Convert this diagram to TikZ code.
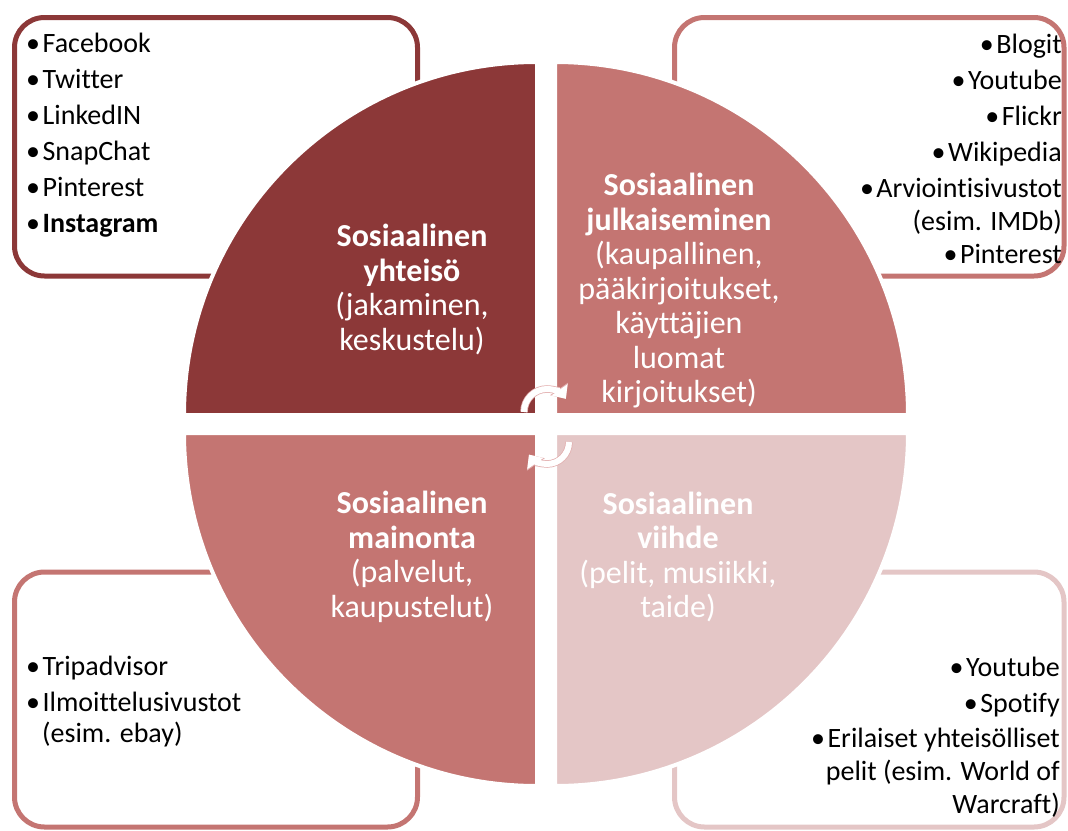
\documentclass[tikz,border=0pt]{standalone}
\usepackage{fontspec}
\setmainfont{Carlito}[Ligatures=NoCommon]
\usetikzlibrary{arrows.meta}
\definecolor{darkrose}{HTML}{8C3838}
\definecolor{midrose}{HTML}{C47572}
\definecolor{lightrose}{HTML}{E4C6C6}
\definecolor{rimrose}{HTML}{E2AEAE}
\newcommand{\bul}{•\hspace{2.5pt}}
\tikzset{listbox/.style={rounded corners=30pt, line width=5pt},
         quarter/.style={draw=white, line width=4pt},
         quartertext/.style={text=white, align=center,
                             font=\fontsize{32}{34.5}\selectfont},
         item/.style={font=\fontsize{28}{33}\selectfont},
         cyclearrow/.style={white, line width=6pt,
                            -{Triangle[width=19pt, length=11pt]},
                            preaction={draw=rimrose, line width=7.5pt,
                                       -{Triangle[width=21pt, length=12pt]}}}}

\begin{document}
\begin{tikzpicture}[x=1pt, y=-1pt, every node/.style={inner sep=0pt}]
      \useasboundingbox (0,0) rectangle (1068,830);

      % boxes behind the circle
      \draw[listbox, draw=darkrose] (14.5,17.5) rectangle (417.5,276);
      \draw[listbox, draw=midrose] (674.5,17.5) rectangle (1064,276);
      \draw[listbox, draw=midrose] (14.5,572) rectangle (417.5,827);
      \draw[listbox, draw=lightrose] (674.5,572) rectangle (1064,827);

      % four quarters
      \filldraw[quarter, fill=darkrose] (537,415) -- (184,415)
        arc[start angle=180, end angle=270, radius=353] -- cycle;
      \filldraw[quarter, fill=midrose] (555,415) -- (555,62)
        arc[start angle=270, end angle=360, radius=353] -- cycle;
      \filldraw[quarter, fill=lightrose] (555,433) -- (908,433)
        arc[start angle=0, end angle=90, radius=353] -- cycle;
      \filldraw[quarter, fill=midrose] (537,433) -- (537,786)
        arc[start angle=90, end angle=180, radius=353] -- cycle;

      \draw[cyclearrow] (524,412) arc[start angle=180, end angle=325, radius=23];
      \draw[cyclearrow] (569,442) arc[start angle=0, end angle=145, radius=22];

      \node[quartertext] (community) at (412,289.5)
        {\textbf{Sosiaalinen}\\\textbf{yhteisö}\\(jakaminen,\\keskustelu)};
      \node[quartertext] (publishing) at (679,291)
        {\textbf{Sosiaalinen}\\\textbf{julkaiseminen}\\(kaupallinen,\\pääkirjoitukset,\\käyttäjien\\luomat\\kirjoitukset)};
      \node[quartertext] (marketing) at (412,557)
        {\textbf{Sosiaalinen}\\\textbf{mainonta}\\(palvelut,\\kaupustelut)};
      \node[quartertext] (entertainment) at (678,557)
        {\textbf{Sosiaalinen}\\\textbf{viihde}\\(pelit, musiikki,\\taide)};

      % lists
      \foreach \name [count=\i from 0] in {Facebook, Twitter, LinkedIN, SnapChat, Pinterest}
        \node[item, anchor=base west] (comm\i) at (26,52+36*\i) {\bul\name};
      \node[item, anchor=base west] (comm5) at (26,232) {\bul\textbf{Instagram}};

      \foreach \name/\y [count=\i] in {Blogit/53, Youtube/89, Flickr/125, Wikipedia/161,
                                       Arviointisivustot/197}
        \node[item, anchor=base east] (pub\i) at (1062,\y) {\bul\name};
      \node[item, anchor=base east] (pub6) at (1062,230) {(esim. IMDb)};
      \node[item, anchor=base east] (pub7) at (1062,263) {\bul Pinterest};

      \node[item, anchor=base west] (mark1) at (26,675) {\bul Tripadvisor};
      \node[item, anchor=base west] (mark2) at (26,711) {\bul Ilmoittelusivustot};
      \node[item, anchor=base west] (mark3) at (42,742) {(esim. ebay)};

      \node[item, anchor=base east] (ent1) at (1060,676) {\bul Youtube};
      \node[item, anchor=base east] (ent2) at (1060,712) {\bul Spotify};
      \node[item, anchor=base east] (ent3) at (1060,747) {\bul Erilaiset yhteisölliset};
      \node[item, anchor=base east] (ent4) at (1060,780) {pelit (esim. World of};
      \node[item, anchor=base east] (ent5) at (1060,813) {Warcraft)};
    \end{tikzpicture}
\end{document}
